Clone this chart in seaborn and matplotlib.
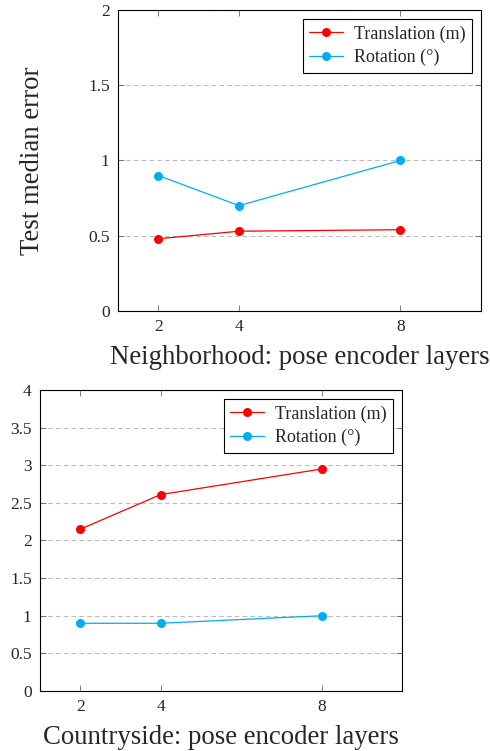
import pandas as pd
import seaborn as sns
import matplotlib.pyplot as plt

# data
layers = [2, 4, 8]
neigh_translation = [0.48, 0.53, 0.54]
neigh_rotation = [0.90, 0.70, 1.00]
country_translation = [2.15, 2.61, 2.95]
country_rotation = [0.90, 0.90, 1.00]
series_names = ["Translation (m)", "Rotation (°)"]

sns.set_style("ticks")
plt.rcParams["font.family"] = ["Liberation Serif", "DejaVu Serif"]
plt.rcParams["mathtext.fontset"] = "stix"

palette = {series_names[0]: "#FF0000", series_names[1]: "#00AEEF"}


def make_df(trans, rot):
    return pd.DataFrame({
        "layers": layers * 2,
        "error": trans + rot,
        "series": [series_names[0]] * 3 + [series_names[1]] * 3,
    })


fig = plt.figure(figsize=(4.9, 7.51), dpi=100)
ax1 = fig.add_axes([0.2408, 0.5859, 0.7408, 0.4008])
ax2 = fig.add_axes([0.0816, 0.0799, 0.7388, 0.4008])

panels = [
    (ax1, make_df(neigh_translation, neigh_rotation), 2, [0, 0.5, 1, 1.5, 2],
     "Neighborhood: pose encoder layers", "Test median error"),
    (ax2, make_df(country_translation, country_rotation), 4,
     [0, 0.5, 1, 1.5, 2, 2.5, 3, 3.5, 4],
     "Countryside: pose encoder layers", None),
]

for ax, df, ymax, yticks, xlabel, ylabel in panels:
    sns.lineplot(data=df, x="layers", y="error", hue="series", palette=palette,
                 marker="o", markersize=6.5, markeredgewidth=0, linewidth=0.9,
                 ax=ax)
    ax.set_xlim(1, 10)
    ax.set_ylim(0, ymax)
    ax.set_xticks(layers)
    ax.set_xticklabels([str(v) for v in layers])
    ax.set_yticks(yticks)
    ax.set_yticklabels(["{:g}".format(v) for v in yticks])
    ax.grid(axis="y", linestyle=(0, (4, 3)), color="#BBBBBB", linewidth=0.8)
    ax.set_axisbelow(True)
    ax.tick_params(direction="in", top=True, right=True, labelsize=12.5,
                   length=4, width=0.6, color="#666666", pad=6)
    for sp in ax.spines.values():
        sp.set_linewidth(0.8)
        sp.set_color("black")
    ax.set_xlabel(xlabel, fontsize=19.3, labelpad=7)
    if ylabel:
        ax.set_ylabel(ylabel, fontsize=19.3, labelpad=31)
    else:
        ax.set_ylabel("")
    leg = ax.legend(loc="upper right", fontsize=13, frameon=True, fancybox=False,
                    edgecolor="black", framealpha=1, borderpad=0.35,
                    handlelength=1.9, handletextpad=0.6, labelspacing=0.35,
                    borderaxespad=0.5)
    leg.get_frame().set_linewidth(0.8)

fig.savefig("out.png", dpi=100)
